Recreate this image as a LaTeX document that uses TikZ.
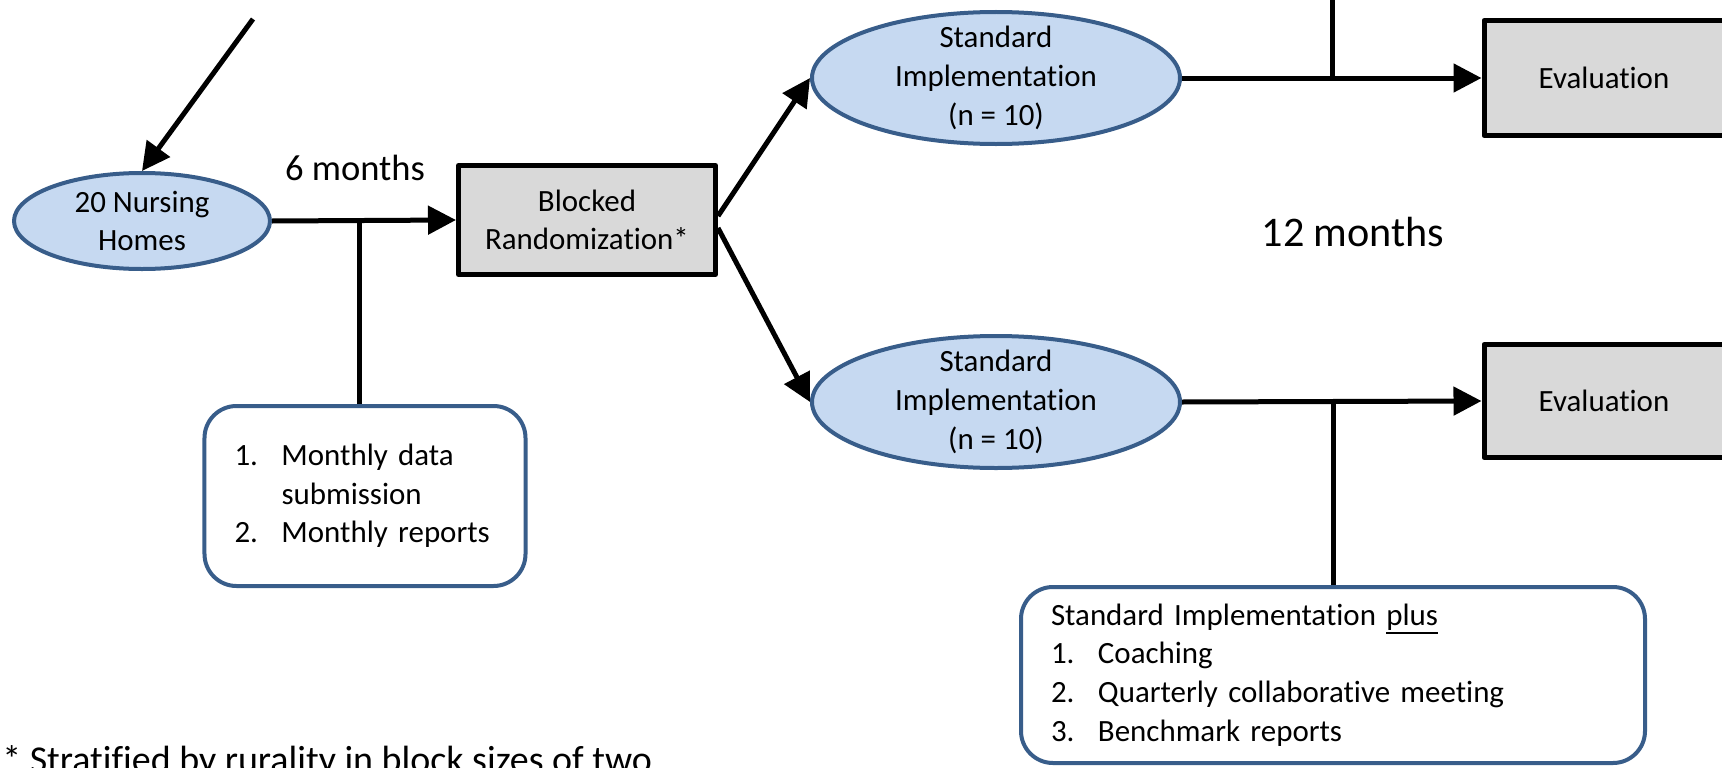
\documentclass[tikz,border=0pt]{standalone}
\usepackage{fontspec}
\setmainfont[Ligatures=NoCommon]{Carlito}
\usetikzlibrary{shapes.geometric,arrows.meta}

\definecolor{sitefill}{HTML}{C6D9F1}
\definecolor{siteedge}{HTML}{385D8A}
\definecolor{stagegray}{HTML}{D9D9D9}
\newcommand\listnum[1]{\makebox[11.75mm][l]{#1}}
\newcommand\ulword[1]{\setbox0\hbox{#1}\rlap{\rule[-2.1mm]{\wd0}{0.45mm}}\box0}

\begin{document}
\begin{tikzpicture}[
  x=0.25mm,
  y=-0.25mm,
  line join=round,
  every node/.style={font=\fontsize{22}{27.5}\selectfont},
  site/.style={ellipse,draw=siteedge,fill=sitefill,line width=1mm,align=center,inner xsep=0pt,inner ysep=-2.5mm},
  stage/.style={rectangle,draw=black,fill=stagegray,line width=1.25mm,align=center,inner sep=0pt},
  note/.style={rectangle,rounded corners=8mm,draw=siteedge,fill=white,line width=1mm,align=left,inner xsep=7.5mm,inner ysep=0pt},
  flow/.style={draw=black,line width=1.25mm},
  flowarrow/.style={flow,-{Triangle[length=7mm,width=7mm]}}
]
  % Frame of the cropped original.
  \useasboundingbox (0,0) rectangle (1722,768);

  % Enrolment and randomization.
  \node[site,minimum width=64mm,minimum height=24mm] (homes) at (142,221) {20 Nursing\\Homes};
  \node[stage,minimum width=64.25mm,minimum height=27.25mm] (blocked) at (587,220) {Blocked\\Randomization*};
  \node[note,text width=65.25mm,minimum height=45mm] (baseline) at (365,496)
    {\listnum{1.}Monthly data\\\hspace*{11.75mm}submission\\\listnum{2.}Monthly reports};

  % The two arms.
  \node[site,minimum width=92mm,minimum height=33mm] (upper) at (996,78) {Standard\\Implementation\\(n = 10)};
  \node[site,minimum width=92mm,minimum height=33mm] (lower) at (996,402) {Standard\\Implementation\\(n = 10)};
  \node[stage,minimum width=60mm,minimum height=28.75mm] (evalup) at (1604,78) {Evaluation};
  \node[stage,minimum width=60mm,minimum height=28.25mm] (evallow) at (1604,401) {Evaluation};
  \node[note,text width=141mm,minimum height=44mm] (extras) at (1333,675)
    {Standard Implementation \ulword{plus}\\\listnum{1.}Coaching\\\listnum{2.}Quarterly collaborative meeting\\\listnum{3.}Benchmark reports};

  % Period labels and footnote.
  \node[font=\fontsize{26}{31}\selectfont] (sixmonths) at (355,168) {6 months};
  \node[font=\fontsize{30}{36}\selectfont] (twelvemonths) at (1353,232) {12 months};
  \node[anchor=base west,inner sep=0pt,font=\fontsize{27}{32}\selectfont] (footnote) at (2,772)
    {* Stratified by rurality in block sizes of two};

  % Connectors.
  \coordinate (source) at (253,19);
  \coordinate (feed) at (1332,-10);
  \draw[flowarrow] (source) -- (homes.north);
  \draw[flowarrow] (homes.east) -- (blocked.west);
  \draw[flow] ([xshift=-1.5mm]baseline.north) -- ([xshift=-1.5mm]baseline.north |- homes.east);
  \draw[flowarrow] ([yshift=1mm]blocked.east) -- (upper.west);
  \draw[flowarrow] ([yshift=-2mm]blocked.east) -- (lower.west);
  \draw[flowarrow] (upper.east) -- (evalup.west);
  \draw[flowarrow] (lower.east) -- (evallow.west);
  \draw[flow] (feed) -- (feed |- upper.east);
  \draw[flow] (extras.north) -- (extras.north |- lower.east);
\end{tikzpicture}
\end{document}
